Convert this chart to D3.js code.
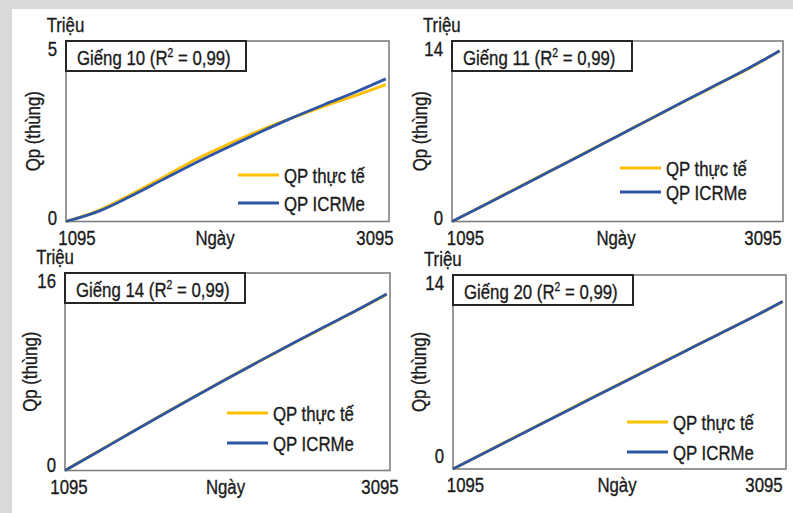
<!DOCTYPE html>
<html><head><meta charset="utf-8">
<script src="https://cdn.jsdelivr.net/npm/d3@7"></script>
<style>
body{margin:0;background:#fff}
text{font-family:"Liberation Sans","Arimo","Noto Sans",sans-serif;fill:#1a1a1a;stroke:#1a1a1a;stroke-width:0.35px}
</style>
</head><body>
<svg id="chart" width="793" height="513"></svg>
<script>
// Cumulative production (million barrels) per well, by day
const days = [1095, 1295, 1495, 1695, 1895, 2095, 2295, 2495, 2695, 2895, 3075];
const wellNames = ["Giếng 10", "Giếng 11", "Giếng 14", "Giếng 20"];
const r2Values = ["0,99", "0,99", "0,99", "0,99"];
const yMaxes = [5, 14, 16, 14];

const actual10 = [0, 0.30, 0.74, 1.22, 1.71, 2.13, 2.52, 2.87, 3.20, 3.50, 3.79];
const model10  = [0, 0.28, 0.70, 1.16, 1.62, 2.05, 2.47, 2.87, 3.24, 3.60, 3.95];
const actual11 = [0, 1.32, 2.65, 3.97, 5.30, 6.63, 7.96, 9.29, 10.60, 11.92, 13.22];
const model11  = [0, 1.30, 2.62, 3.95, 5.28, 6.62, 7.96, 9.30, 10.62, 11.94, 13.25];
const actual14 = [0, 1.52, 3.04, 4.54, 6.02, 7.46, 8.88, 10.27, 11.64, 13.00, 14.28];
const model14  = [0, 1.50, 3.02, 4.52, 6.00, 7.45, 8.88, 10.28, 11.66, 13.02, 14.30];
const actual20 = [0, 1.23, 2.47, 3.70, 4.93, 6.14, 7.35, 8.55, 9.76, 10.95, 12.08];
const model20  = [0, 1.22, 2.45, 3.68, 4.90, 6.12, 7.33, 8.54, 9.75, 10.95, 12.10];

const actualSeries = [actual10, actual11, actual14, actual20];
const modelSeries = [model10, model11, model14, model20];

const xDomain = [1095, 3095];
const xTickLabels = ["1095", "3095"];
const legendLabels = ["QP thực tế", "QP ICRMe"];
const xTitle = "Ngày";
const yTitle = "Qp (thùng)";
const unitLabel = "Triệu";

const colors = {actual: "#ffc000", model: "#2e56a6"};

// Panel placement on the page
const layout = [
  {l: 66,  r: 389, t: 41,  b: 221.5, x0: 77,    x1: 375, xt: 215,   zeroDy: 2,  legX: 238, legY: 175, legGap: 28, yt: 40},
  {l: 452, r: 783, t: 41,  b: 221.5, x0: 465.5, x1: 763, xt: 616,   zeroDy: 2,  legX: 620, legY: 168, legGap: 24, yt: 427},
  {l: 65,  r: 390, t: 273, b: 470.5, x0: 69,    x1: 380, xt: 225.5, zeroDy: 0,  legX: 227, legY: 413, legGap: 30, yt: 37},
  {l: 453, r: 786, t: 275, b: 469,   x0: 465.5, x1: 764, xt: 617,   zeroDy: -7, legX: 627, legY: 422, legGap: 30, yt: 426}
];

const svg = d3.select("#chart");
const W = 793, H = 513;
const FS = 21;      // font size
const SX = 0.8;     // horizontal squeeze for a condensed look

// text helper: condensed label anchored at (x, y)
function label(parent, x, y, str, anchor = "start", extra = "") {
  return parent.append("text")
    .attr("transform", `translate(${x},${y}) ${extra} scale(${SX},1)`)
    .attr("text-anchor", anchor).attr("font-size", FS).text(str);
}

// grey frame around the white sheet
svg.append("rect").attr("width", W).attr("height", H).attr("fill", "#d9d9d9");
svg.append("rect").attr("x", 12).attr("y", 9).attr("width", W - 12).attr("height", H - 9).attr("fill", "#fff");

layout.forEach((p, i) => {
  const g = svg.append("g");
  const x = d3.scaleLinear().domain(xDomain).range([p.l, p.r]);
  const y = d3.scaleLinear().domain([0, yMaxes[i]]).range([p.b, p.t]);

  // plot border
  g.append("rect").attr("x", p.l).attr("y", p.t)
    .attr("width", p.r - p.l).attr("height", p.b - p.t)
    .attr("fill", "#fff").attr("stroke", "#7f7f7f").attr("stroke-width", 1.6);

  const line = d3.line().x((d, k) => x(days[k])).y(d => y(d)).curve(d3.curveMonotoneX);
  g.append("path").datum(actualSeries[i]).attr("d", line)
    .attr("fill", "none").attr("stroke", colors.actual).attr("stroke-width", 3);
  g.append("path").datum(modelSeries[i]).attr("d", line)
    .attr("fill", "none").attr("stroke", colors.model).attr("stroke-width", 2.8);

  // well label box
  g.append("rect").attr("x", p.l).attr("y", p.t).attr("width", 180).attr("height", 30)
    .attr("fill", "#fff").attr("stroke", "#262626").attr("stroke-width", 2);
  const title = label(g, p.l + 11, p.t + 24, null);
  title.append("tspan").text(wellNames[i] + " (R");
  title.append("tspan").attr("font-size", 13).attr("dy", -8).text("2");
  title.append("tspan").attr("dy", 8).text(" = " + r2Values[i] + ")");

  // y tick labels
  const yTicks = [0, yMaxes[i]];
  const maxLab = label(g, p.l - 9, y(yTicks[1]) + 15, yTicks[1], "end");
  label(g, p.l - 9, y(yTicks[0]) + 1 + p.zeroDy, yTicks[0], "end");
  const w = maxLab.node().getBBox().width * SX;
  label(g, p.l - 9 - w - 1, p.t - 9, unitLabel);

  // x tick labels and title
  const xl = p.b + 23;
  label(g, p.x0, xl, xTickLabels[0], "middle");
  label(g, p.x1, xl, xTickLabels[1], "middle");
  label(g, p.xt, xl, xTitle, "middle");

  // y title
  label(g, p.yt, (p.t + p.b) / 2, yTitle, "middle", "rotate(-90)");

  // legend
  [colors.actual, colors.model].forEach((c, k) => {
    const ly = p.legY + k * p.legGap;
    g.append("line").attr("x1", p.legX).attr("x2", p.legX + 41).attr("y1", ly).attr("y2", ly)
      .attr("stroke", c).attr("stroke-width", 3);
    label(g, p.legX + 46, ly + 7.5, legendLabels[k]);
  });
});
</script>
</body></html>
